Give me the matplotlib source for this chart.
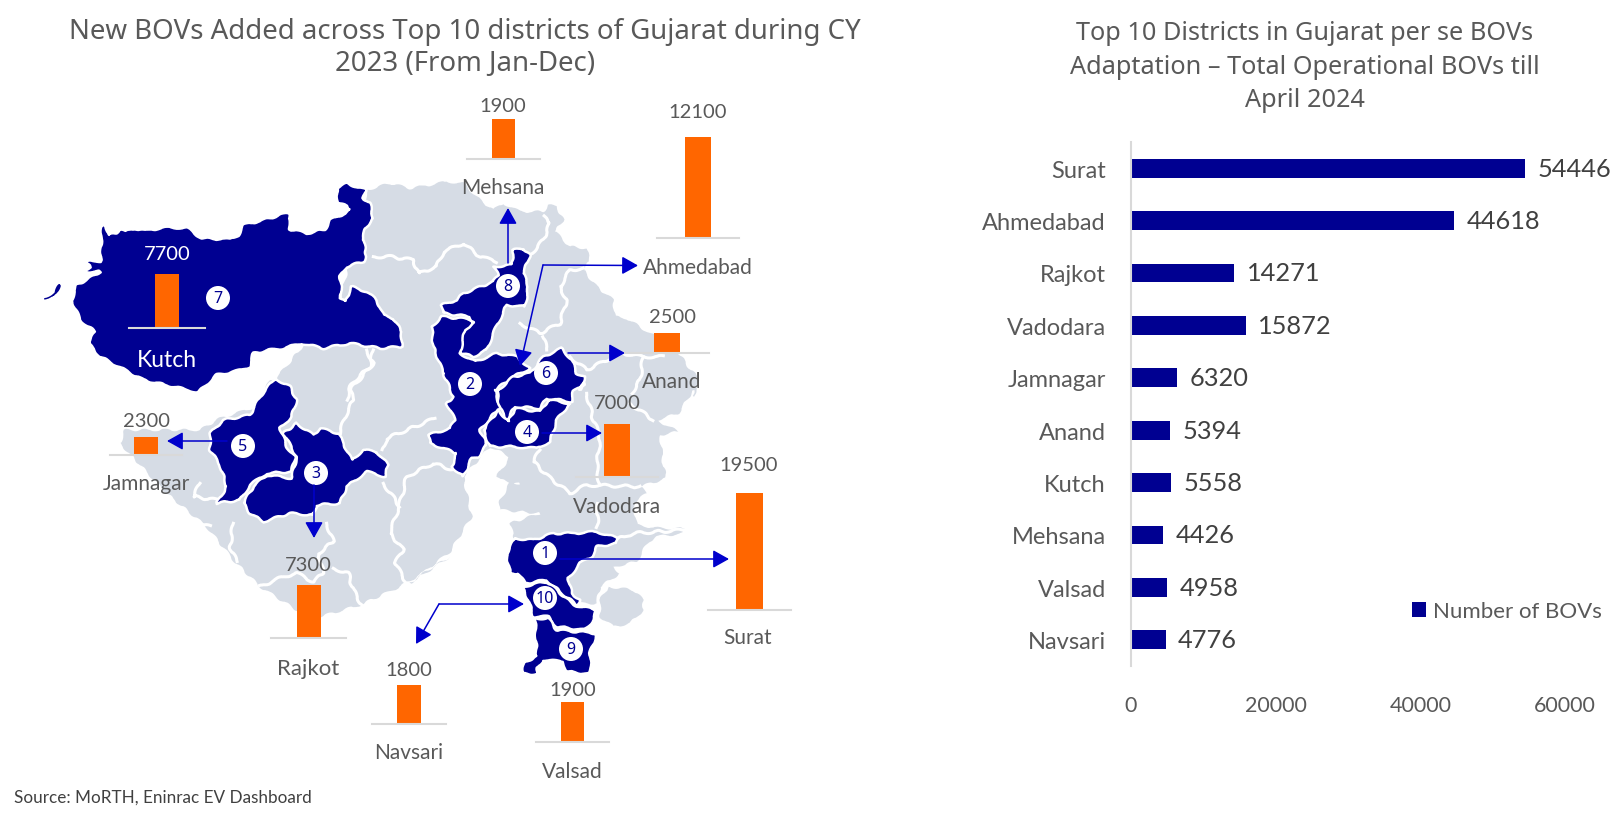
import matplotlib
matplotlib.use("Agg")
import matplotlib.pyplot as plt
from matplotlib.patches import Polygon, Circle

W, H = 1620, 820

# ---------- data ----------
new_districts = ["Kutch", "Mehsana", "Ahmedabad", "Anand", "Vadodara", "Jamnagar", "Rajkot", "Surat", "Navsari", "Valsad"]
new_bovs = [7700, 1900, 12100, 2500, 7000, 2300, 7300, 19500, 1800, 1900]

total_districts = ["Surat", "Ahmedabad", "Rajkot", "Vadodara", "Jamnagar", "Anand", "Kutch", "Mehsana", "Valsad", "Navsari"]
total_bovs = [54446, 44618, 14271, 15872, 6320, 5394, 5558, 4426, 4958, 4776]
xticks_total = [0, 20000, 40000, 60000]

title_left = "New BOVs Added across Top 10 districts of Gujarat during CY\n2023 (From Jan-Dec)"
title_right = "Top 10 Districts in Gujarat per se BOVs\nAdaptation \u2013 Total Operational BOVs till\nApril 2024"
source_text = "Source: MoRTH, Eninrac EV Dashboard"

# ---------- style ----------
NAVY = "#000091"
ORANGE = "#FF6600"
GREY = "#D6DCE5"
ARROW = "#0000CC"
TXT = "#595959"
LINE = "#D9D9D9"
plt.rcParams["font.family"] = ["Lato", "DejaVu Sans"]

# zoom frames: tracing helpers for the map outline (decorative geography)
def z1(p): return [(30 + x / 3, 160 + y / 3) for x, y in p]
def z2(p): return [(330 + x / 3, 160 + y / 3) for x, y in p]
def z3(p): return [(100 + x / 3, 350 + y / 3) for x, y in p]
def z4(p): return [(400 + x / 3, 370 + y / 3) for x, y in p]

state = (
    z2([(110,90),(180,70),(240,85),(300,75),(350,65),(400,70),(450,120),(490,150),(520,130),(570,155),(640,155),
        (655,135),(680,140),(700,180),(675,215),(720,260),(770,265),(778,305),(760,330),(800,380),(850,420),
        (855,470),(890,475),(960,520),(1000,540),(1040,570),(1075,620),(1110,660),(1090,710)])
    + z4([(880,60),(835,130),(770,150),(835,185),(780,195),(790,290),(800,325),(720,350),(740,370),(700,400),
          (710,465),(780,475),(855,475),(850,490),(770,500),(745,515),(710,575),(640,590),(660,610),(600,650),(590,700),(540,700),
          (480,620),(400,560),(340,500),(330,460),(420,430),(300,420),(300,390),(330,340),(360,340),(300,330),
          (290,320),(330,260),(270,230),(190,320),(215,440),(150,545),(30,640)])
    + z3([(1050,620),(900,710),(780,765),(660,800),(590,780),(480,710),(400,630),(320,530),(200,430),(60,280),
          (75,240),(300,240),(360,205),(470,170),(510,90),(525,85),(550,60)])
    + [(340, 300), (365, 200)]
)
dang = z4([(625,650),(700,660),(730,690),(730,720),(690,760),(640,770),(600,740),(600,690)])

kutch = z1([(215,195),(228,195),(235,225),(260,220),(268,205),(285,215),(315,205),(345,212),(400,203),(470,203),
            (515,235),(600,238),(625,225),(640,195),(700,180),(785,155),(775,175),(780,208),(830,220),(885,208),
            (900,180),(945,160),(960,150),(950,138),(925,130),(920,85),(950,70),(1008,90),(1000,115),(1020,130),
            (1030,175),(1005,205),(1000,240),(1010,290),(1000,305),(950,320),(930,350),(935,400),(930,415),(945,425),
            (965,380),(1010,395),(1040,420),(1060,465),(1090,475),(1115,515),(1115,560),(1050,565),(960,550),(880,565),
            (815,550),(760,565),(720,570),(670,580),(660,620),(635,630),(560,645),(505,697),(430,680),(340,660),
            (210,590),(175,550),(195,515),(150,480),(125,420),(140,375),(205,340),(210,335),(170,335),(145,350),
            (180,320),(165,305),(212,303)])
island = z1([(40,412),(70,395),(90,360),(97,375),(75,415),(40,420)])
d8 = z2([(490,320),(545,315),(550,270),(580,265),(600,285),(580,340),(595,380),(585,440),(530,435),(490,520),
         (470,570),(430,590),(395,580),(390,540),(405,500),(430,490),(420,470),(340,460),(335,435),(380,420),
         (400,400),(490,365),(505,345)])
d2 = (z2([(305,500),(335,470),(420,478),(433,485),(405,510),(390,580),(435,605),(500,580),(560,590),(600,625),
          (550,650),(495,690)])
      + z4([(285,60),(300,110),(240,180),(260,225),(235,260),(215,265),(190,320),(155,290),(170,250),(90,220),
            (85,195),(150,175),(165,150),(140,100),(160,80),(130,10)])
      + z2([(340,640),(310,560)]))
d6 = (z2([(505,690),(550,650),(600,640),(640,590),(695,565),(725,600),(740,640),(765,650),(750,690)])
      + z4([(555,40),(520,65),(515,95),(440,85),(420,115),(345,110),(320,150),(300,115),(290,60)]))
d4 = z4([(295,120),(325,155),(345,115),(420,125),(445,90),(510,100),(470,150),(450,215),(410,235),(340,230),
         (270,230),(250,180)])
d5 = z3([(525,85),(570,110),(590,150),(575,200),(540,235),(560,290),(585,320),(575,365),(500,370),(450,405),
         (420,450),(350,460),(380,410),(360,345),(330,300),(330,250),(370,210),(450,195),(480,140)])
d3 = z3([(590,220),(640,255),(660,235),(715,250),(755,330),(790,300),(830,305),(865,345),(855,380),(800,365),
         (740,410),(720,460),(650,465),(640,495),(570,490),(490,515),(450,490),(430,460),(460,410),(500,375),
         (575,385),(590,320),(550,250)])
d1 = z4([(345,505),(400,510),(460,490),(520,490),(590,485),(655,505),(650,520),(590,530),(575,560),(540,580),
         (505,625),(515,670),(540,690),(530,705),(480,665),(440,630),(375,640),(355,610),(330,610),(320,550)])
d10 = z4([(365,650),(440,635),(470,660),(520,705),(590,720),(580,750),(555,780),(470,770),(445,740),(400,740),(385,690)])
d9 = z4([(405,745),(445,745),(470,780),(590,790),(570,850),(572,900),(571,912),(500,905),(490,875),(430,870),(412,895),(415,912),(365,912),(375,875),(410,860)])

borders = [
    z2([(130,290),(180,290),(250,300),(265,340),(320,320),(340,275),(400,250),(450,290),(500,305)]),
    z2([(600,285),(640,240),(660,190),(640,170)]),
    z2([(570,490),(630,520),(690,490),(710,420),(690,380),(720,330),(760,325)]),
    z2([(650,570),(640,530)]),
    z2([(720,590),(770,630),(850,590),(880,580),(935,590),(1000,590)]),
    z2([(940,590),(930,660),(905,700)]),
    z1([(1030,570),(1020,620),(965,670),(950,720)]),
    z3([(800,0),(820,40),(750,120),(760,150),(735,200),(720,250)]),
    z3([(1005,205),(860,265),(850,300)]),
    z3([(1090,370),(1000,340),(920,380),(900,460),(870,550),(910,600),(885,640),(920,700)]),
    z3([(850,400),(900,470)]),
    z3([(400,520),(390,590),(410,635)]),
    z3([(680,520),(700,575),(655,610),(670,670),(640,695),(590,670),(550,680),(480,710)]),
    z3([(700,655),(745,670),(760,720),(785,765)]),
    z3([(300,400),(280,440),(350,450)]),
    z3([(285,510),(330,530)]),
    z4([(420,240),(400,275),(445,320),(510,370),(560,345),(720,350)]),
    z4([(560,70),(580,150),(600,200),(590,300),(600,345)]),
    z4([(590,400),(590,470)]),
    z4([(690,100),(760,150)]),
    z4([(850,480),(700,490),(590,530)]),
]
blue_regions = [kutch, island, d8, d2, d6, d4, d5, d3, d1, d10, d9]

# circle markers (number, centre in px)
markers = [("7",218,298),("8",508,286),("6",546,373),("2",470,384),("5",243,446),
           ("3",316,473),("4",527,432),("1",545,553),("10",545,598),("9",571,649)]

# mini chart frames: name -> (line left, line right, baseline y, bar top y, value xy, label xy, text colour, label size)
frames = {
    "Kutch":     (129, 205, 328, 274, (167, 253), (167, 360), "white", 16.5),
    "Mehsana":   (467, 540, 159, 119, (503, 105), (503, 187), TXT, 15),
    "Ahmedabad": (657, 739, 238, 137, (698, 112), (698, 267), TXT, 15),
    "Anand":     (625, 709, 353, 333, (672, 317), (672, 381), TXT, 15),
    "Vadodara":  (576, 658, 477, 424, (617, 403), (617, 506), TXT, 15),
    "Jamnagar":  (110, 182, 455, 437, (147, 421), (146, 483), TXT, 15),
    "Rajkot":    (271, 346, 638, 585, (308, 565), (308, 668), TXT, 16),
    "Surat":     (708, 791, 610, 493, (749, 465), (748, 637), TXT, 15),
    "Navsari":   (372, 446, 724, 685, (409, 670), (409, 752), TXT, 15),
    "Valsad":    (536, 609, 742, 702, (573, 690), (572, 771), TXT, 15),
}

YSHIFT = 1

def box(l, r, top, bot):
    return [l / W, 1 - (bot + YSHIFT) / H, (r - l) / W, (bot - top) / H]

fig = plt.figure(figsize=(W / 100, H / 100), dpi=100, facecolor="white")

# ---------- map layer ----------
bg = fig.add_axes([0, 0, 1, 1], zorder=0)
bg.set_xlim(0, W); bg.set_ylim(H - YSHIFT, -YSHIFT); bg.axis("off")
SK = (1.3, 22, 2)
for poly in (state, dang):
    p = Polygon(poly, closed=True, fc=GREY, ec="none", zorder=1)
    p.set_sketch_params(*SK)
    bg.add_patch(p)
for b in borders:
    xs, ys = zip(*b)
    ln, = bg.plot(xs, ys, color="white", lw=2.2, zorder=2, solid_joinstyle="round")
    ln.set_sketch_params(*SK)
for poly in blue_regions:
    p = Polygon(poly, closed=True, fc=NAVY, ec="white", lw=1.8, zorder=3, joinstyle="round")
    p.set_sketch_params(1.0, 22, 2)
    bg.add_patch(p)
for num, cx, cy in markers:
    bg.add_patch(Circle((cx, cy), 12, fc="white", ec="none", zorder=4))
    bg.text(cx, cy, num, ha="center", va="center", color=NAVY, fontsize=11.5, fontweight="bold", zorder=5,
            family=["Noto Sans"])

# arrows
def arrow(a, b):
    bg.annotate("", xy=b, xytext=a, zorder=6,
                arrowprops=dict(arrowstyle="-|>,head_length=0.75,head_width=0.42", color=ARROW, lw=1.1,
                                shrinkA=0, shrinkB=0, mutation_scale=13))
arrow((508, 263), (508, 208))
arrow((543, 265), (638, 265.5))
arrow((543, 265), (520, 366))
arrow((568, 353), (625, 353))
arrow((542, 433), (602, 433))
arrow((560, 559), (729, 559))
arrow((439, 604), (524, 604))
arrow((439, 604), (416, 644))
arrow((314, 485), (314, 538))
arrow((227, 441), (167, 441))

# ---------- mini bar charts ----------
for name, val in zip(new_districts, new_bovs):
    l, r, base, top, vxy, lxy, col, lsize = frames[name]
    ax = fig.add_axes(box(l, r, top, base), zorder=2)
    ax.patch.set_alpha(0)
    ax.bar([0], [val], width=0.32, color=ORANGE)
    ax.set_xlim(-0.5, 0.5); ax.set_ylim(0, val)
    ax.set_xticks([]); ax.set_yticks([])
    for s in ["top", "left", "right"]:
        ax.spines[s].set_visible(False)
    ax.spines["bottom"].set_color(LINE); ax.spines["bottom"].set_linewidth(1.5)
    bg.text(*vxy, str(val), ha="center", va="center", color=col, fontsize=14.5, zorder=7)
    bg.text(*lxy, name, ha="center", va="center", color=col, fontsize=lsize, zorder=7)

# ---------- titles ----------
bg.text(465, 47, title_left, ha="center", va="center", color=TXT, fontsize=19.9, linespacing=1.2,
        family=["Noto Sans"])
bg.text(1305, 66, title_right, ha="center", va="center", color=TXT, fontsize=18.2, linespacing=1.43,
        family=["Noto Sans"])
bg.text(14, 797, source_text, ha="left", va="center", color="#404040", fontsize=12.3)

# ---------- right bar chart ----------
ax2 = fig.add_axes(box(1131, 1565, 142, 666), zorder=1)
ax2.patch.set_alpha(0)
bars = ax2.barh(total_districts, total_bovs, height=0.36, color=NAVY, label="Number of BOVs")
ax2.set_xlim(0, 60000)
ax2.set_ylim(len(total_districts) - 0.5, -0.5)
ax2.set_xticks(xticks_total)
ax2.tick_params(axis="both", length=0, colors=TXT)
ax2.tick_params(axis="y", pad=18, labelsize=17)
ax2.tick_params(axis="x", pad=21, labelsize=15.5)
for s in ["top", "right", "bottom"]:
    ax2.spines[s].set_visible(False)
ax2.spines["left"].set_color(LINE); ax2.spines["left"].set_linewidth(1.5)
for i, v in enumerate(total_bovs):
    ax2.annotate(str(v), (v, i), xytext=(9, 0), textcoords="offset points", ha="left", va="center",
                 color="#404040", fontsize=18.3)
# legend
leg = ax2.legend(loc="lower right", bbox_to_anchor=(1.085, 0.085), frameon=False, fontsize=16,
                 labelcolor=TXT, handlelength=0.63, handleheight=0.63, handletextpad=0.3, borderpad=0, borderaxespad=0)

fig.savefig("out.png", dpi=100)
